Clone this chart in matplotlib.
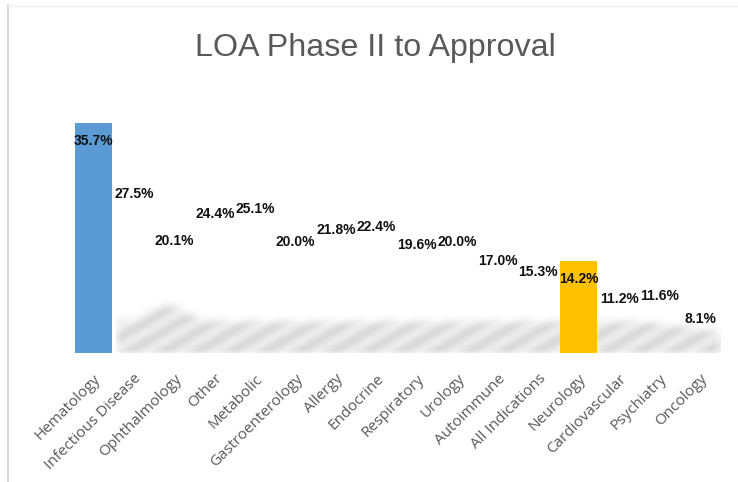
import numpy as np
import matplotlib
matplotlib.use("Agg")
import matplotlib.pyplot as plt
import matplotlib.transforms as mtransforms
from matplotlib.lines import Line2D

# data
categories = ["Hematology", "Infectious Disease", "Ophthalmology", "Other", "Metabolic",
              "Gastroenterology", "Allergy", "Endocrine", "Respiratory", "Urology",
              "Autoimmune", "All Indications", "Neurology", "Cardiovascular",
              "Psychiatry", "Oncology"]
values = [35.7, 27.5, 20.1, 24.4, 25.1, 20.0, 21.8, 22.4, 19.6, 20.0,
          17.0, 15.3, 14.2, 11.2, 11.6, 8.1]
highlight = {"Hematology": "#5B9BD5", "Neurology": "#FFC000"}

TEXT_GRAY = "#595959"

fig = plt.figure(figsize=(7.38, 4.82), dpi=100)
ax = fig.add_axes([73.3 / 738, 129 / 482, 647 / 738, 258 / 482])

x = np.arange(len(categories))
colors = [highlight.get(c, "none") for c in categories]

# blurred "shadow" streaks along the baseline (decoration only)
nx, ny = 700, 70
xs = np.linspace(0.55, 15.5, nx)
ys = np.linspace(0, 8.6, ny)
X, Y = np.meshgrid(xs, ys)
top = 5.6 + 2.6 * np.exp(-((X - 1.8) / 0.6) ** 2) - 1.6 * np.clip(X - 13.5, 0, 2) / 2
d = X * 40.44 - Y * 6.45 * 1.7
stripes = 0.5 + 0.5 * np.cos(2 * np.pi * d / 34)
fade = np.clip((top - Y) / 1.5, 0, 1)
alpha = fade * (0.10 + 0.24 * stripes)
k = np.ones(17) / 17
alpha = np.apply_along_axis(lambda r: np.convolve(r, k, mode="same"), 1, alpha)
alpha = np.apply_along_axis(lambda c: np.convolve(c, np.ones(9) / 9, mode="same"), 0, alpha)
rgba = np.zeros((ny, nx, 4))
rgba[..., :3] = 0.5
rgba[..., 3] = alpha
ax.imshow(rgba, extent=[0.55, 15.5, 0, 8.6], origin="lower", aspect="auto",
          interpolation="bilinear", zorder=1)

ax.bar(x, values, width=0.915, color=colors, zorder=2)

for xi, v in zip(x, values):
    ax.annotate(f"{v:.1f}%", xy=(xi, v), xytext=(0, -18), textcoords="offset pixels",
                ha="center", va="center", fontsize=10, fontweight="bold",
                family="Liberation Sans", color="#111111", zorder=3)

ax.set_xlim(-0.5, len(categories) - 0.5)
ax.set_ylim(0, 40)
ax.set_yticks([])
for s in ax.spines.values():
    s.set_visible(False)

ax.set_xticks(x, categories, rotation=45, ha="right", va="center",
              rotation_mode="anchor", fontsize=11, family="Open Sans", color=TEXT_GRAY)
ax.tick_params(axis="x", length=0, pad=17)
offset = mtransforms.ScaledTranslation(5 / 100, 0, fig.dpi_scale_trans)
for lbl in ax.get_xticklabels():
    lbl.set_transform(lbl.get_transform() + offset)

fig.text(375 / 738, 1 - 56 / 482, "LOA Phase II to Approval", ha="center", va="baseline",
         fontsize=23.2, family="Liberation Sans", color=TEXT_GRAY)

# light chart frame
fig.add_artist(Line2D([8 / 738, 8 / 738], [0, 1 - 5 / 482], transform=fig.transFigure,
                      color="#d9d9d9", lw=1.5))
fig.add_artist(Line2D([8 / 738, 1], [1 - 6 / 482, 1 - 6 / 482], transform=fig.transFigure,
                      color="#f0f0f0", lw=1))

fig.savefig("out.png", dpi=100)
